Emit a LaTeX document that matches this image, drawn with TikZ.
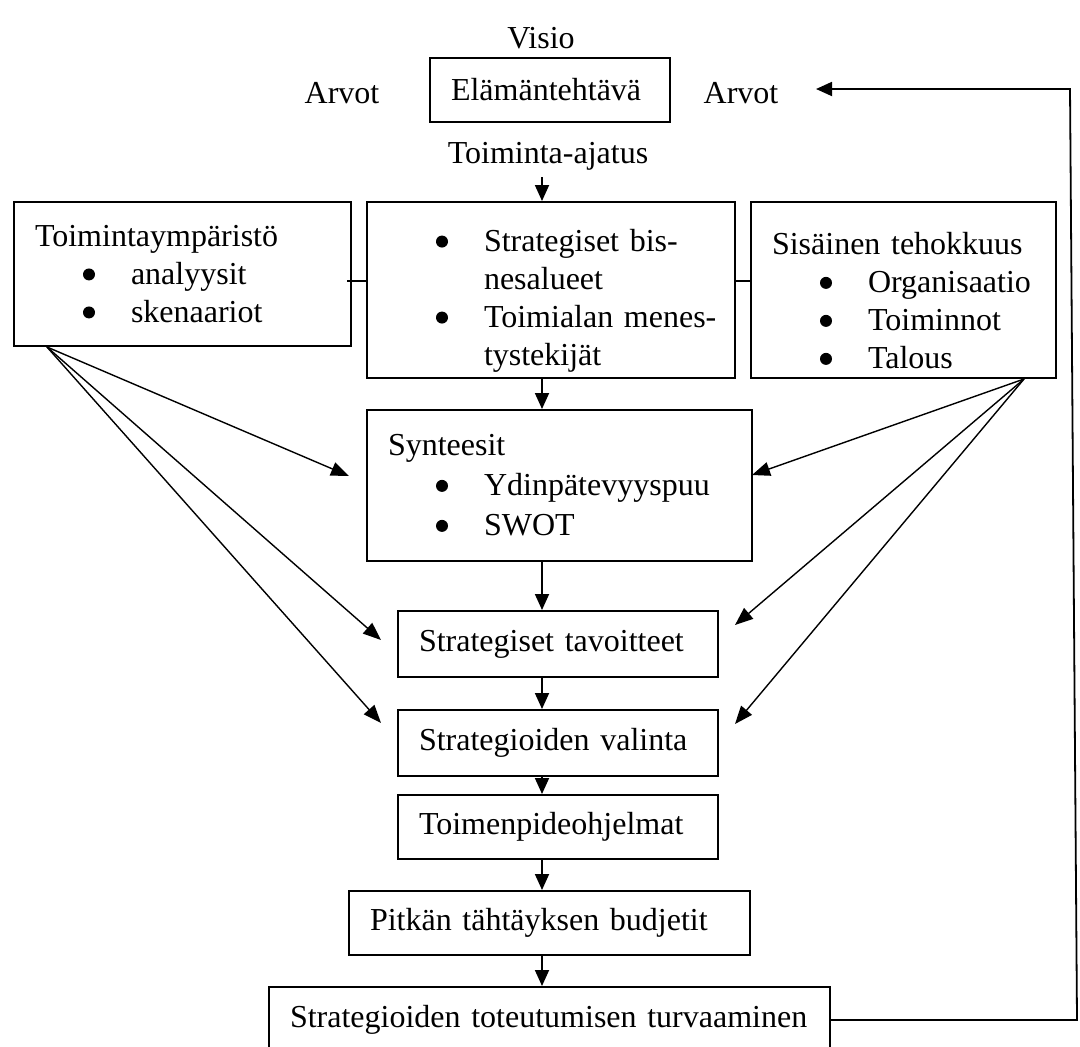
\documentclass[tikz,border=0pt]{standalone}
\usepackage{fontspec}
\setmainfont{Liberation Serif}
\usepackage{tikz}
\usetikzlibrary{arrows.meta}
\newcommand{\fsz}{\fontsize{16}{19}\selectfont}
\newcommand{\dotb}{\tikz[baseline=-5pt]\fill (0,0) circle (3pt);}
\newcommand{\itm}[1]{\hspace*{24pt}\makebox[24pt][l]{\dotb}\mbox{#1}}
\newcommand{\cnt}[1]{\hspace*{48pt}\mbox{#1}}
\newcommand{\lift}{\rule{0pt}{22pt}}

\begin{document}
\begin{tikzpicture}[
x=0.5pt, y=-0.5pt,
Box/.style={draw, line width=1pt, anchor=north west, align=left, inner xsep=10.5pt, inner ysep=0pt},
Arrow/.style={line width=0.9pt, -{Triangle[length=8pt, width=7pt]}},
Thin/.style={line width=0.7pt, -{Triangle[length=9pt, width=7pt]}},
Link/.style={line width=0.9pt},
every node/.style={font=\fsz}
]
\useasboundingbox (0,0) rectangle (1080,1046);
\clip (0,0) rectangle (1080,1046);

% top row
\node (visio) at (541,38) {Visio};
\node[Box, text width=99pt, minimum height=32pt] (mission) at (429,57) {Elämäntehtävä};
\node (arvotL) at (342,93) {Arvot};
\node (arvotR) at (741,93) {Arvot};
\node (idea) at (548,156) {Toiminta-ajatus};

% analysis boxes
\node[Box, text width=147.5pt, minimum height=72pt] (env) at (13,201)
  {Toimintaympäristö\\ \itm{analyysit}\\ \itm{skenaariot}};
\node[Box, text width=163pt, minimum height=88pt] (biz) at (366,201)
  {\lift\itm{Strategiset bis-}\\ \cnt{nesalueet}\\ \itm{Toimialan menes-}\\ \cnt{tystekijät}};
\node[Box, text width=131.5pt, minimum height=88pt] (int) at (750,201)
  {\lift Sisäinen tehokkuus\\ \itm{Organisaatio}\\ \itm{Toiminnot}\\ \itm{Talous}};

% main chain
\node[Box, text width=171.5pt, minimum height=75.5pt, font=\fontsize{16}{20}\selectfont] (syn) at (366,409)
  {Synteesit\\ \itm{Ydinpätevyyspuu}\\ \itm{SWOT}};
\node[Box, text width=139pt, minimum height=33pt] (goal) at (397,610) {Strategiset tavoitteet};
\node[Box, text width=139pt, minimum height=33pt] (choice) at (397,709) {Strategioiden valinta};
\node[Box, text width=139pt, minimum height=32pt] (prog) at (397,794) {Toimenpideohjelmat};
\node[Box, text width=179.5pt, minimum height=32pt] (budget) at (348,890) {Pitkän tähtäyksen budjetit};
\node[Box, text width=259.5pt, minimum height=33pt] (real) at (268,986) {Strategioiden toteutumisen turvaaminen};

\coordinate (spine) at (542,0);
\draw[Arrow] (idea.south -| spine) -- (biz.north -| spine);
\draw[Arrow] (biz.south -| spine) -- (syn.north -| spine);
\draw[Arrow] (syn.south -| spine) -- (goal.north -| spine);
\draw[Arrow] (goal.south -| spine) -- (choice.north -| spine);
\draw[Arrow] (choice.south -| spine) -- (prog.north -| spine);
\draw[Arrow] (prog.south -| spine) -- (budget.north -| spine);
\draw[Arrow] (budget.south -| spine) -- (real.north -| spine);

% short links between the boxes
\coordinate (lk) at (347,281);
\draw[Link] (lk) -- (lk -| biz.west);
\draw[Link] (biz.east |- lk) -- (lk -| int.west);

% fans
\coordinate (envfoot) at ([xshift=17pt]env.south west);
\coordinate (intfoot) at ([xshift=-16.5pt]int.south east);
\coordinate (tipSynL) at (349,476);
\coordinate (tipGoalL) at (381,640);
\coordinate (tipChoiceL) at (381,723);
\coordinate (tipSynR) at (752,475);
\coordinate (tipGoalR) at (735,625);
\coordinate (tipChoiceR) at (735,724);
\draw[Thin] (envfoot) -- (tipSynL);
\draw[Thin] (envfoot) -- (tipGoalL);
\draw[Thin] (envfoot) -- (tipChoiceL);
\draw[Thin] (intfoot) -- (tipSynR);
\draw[Thin] (intfoot) -- (tipGoalR);
\draw[Thin] (intfoot) -- (tipChoiceR);

% feedback loop
\coordinate (fbLow) at (1077,1020);
\coordinate (fbTop) at (1070,89);
\coordinate (fbTip) at (816,89);
\draw[Arrow] (real.east) -- (fbLow) -- (fbTop) -- (fbTip);

\end{tikzpicture}
\end{document}
